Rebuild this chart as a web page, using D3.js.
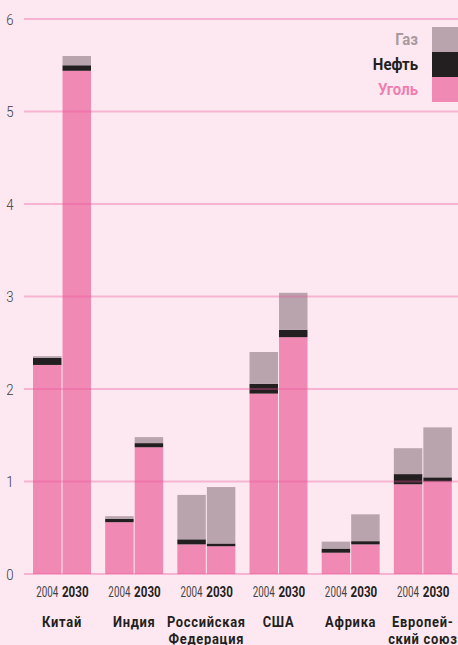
<!DOCTYPE html>
<html><head><meta charset="utf-8">
<script src="https://cdn.jsdelivr.net/npm/d3@7"></script>
<style>
html,body{margin:0;padding:0;background:#fde8f1;}
svg{display:block;}
</style></head>
<body>
<svg id="chart" width="458" height="645"></svg>
<script>
const countries = ["Китай", "Индия", "Российская\nФедерация", "США", "Африка", "Европей-\nский союз"];
const years = ["2004", "2030"];
// values per bar (country × year), in order [c0-2004, c0-2030, c1-2004, ...]
const coal = [2.26, 5.44, 0.56, 1.37, 0.32, 0.30, 1.95, 2.56, 0.23, 0.32, 0.97, 1.00];
const oil  = [0.075, 0.06, 0.035, 0.045, 0.055, 0.03, 0.105, 0.08, 0.045, 0.035, 0.11, 0.045];
const gas  = [0.02, 0.10, 0.03, 0.065, 0.48, 0.61, 0.345, 0.40, 0.075, 0.29, 0.28, 0.54];
const yTicks = [0, 1, 2, 3, 4, 5, 6];
const seriesNames = ["Уголь", "Нефть", "Газ"];
const seriesColors = ["#f189b5", "#231f20", "#b9a4ae"];
const legendTextColors = ["#f07db0", "#231f20", "#a8999f"];

const svg = d3.select("#chart");
const W = 458, H = 645;
const font = "'Roboto','Liberation Sans',sans-serif";

const y = d3.scaleLinear().domain([0, 6]).range([574, 19]);
const xGroup = d3.scaleBand().domain(countries).range([33, 466]).paddingInner(0).paddingOuter(0);
const xYear = d3.scaleBand().domain(years).range([0, 58]).paddingInner(0.035);

const rows = [];
countries.forEach((c, i) => years.forEach((yr, j) => {
  const k = i * 2 + j;
  rows.push({country: c, year: yr, "Уголь": coal[k], "Нефть": oil[k], "Газ": gas[k]});
}));
const stack = d3.stack().keys(seriesNames)(rows);

// narrow text helper
function ntext(x, yy, sx, str) {
  return svg.append("text")
    .attr("transform", `translate(${x},${yy}) scale(${sx},1)`)
    .attr("font-family", font)
    .text(str);
}

// bars
const g = svg.append("g");
stack.forEach((layer, si) => {
  g.selectAll(null).data(layer).enter().append("rect")
    .attr("x", d => xGroup(d.data.country) + xYear(d.data.year))
    .attr("width", xYear.bandwidth())
    .attr("y", d => y(d[1]))
    .attr("height", d => y(d[0]) - y(d[1]))
    .attr("fill", seriesColors[si]);
});

// gridlines on top (translucent)
svg.append("g").selectAll("line").data(yTicks).enter().append("line")
  .attr("x1", 24).attr("x2", W)
  .attr("y1", d => y(d)).attr("y2", d => y(d))
  .attr("stroke", "rgb(236,84,152)").attr("stroke-opacity", 0.35).attr("stroke-width", 2);

// y labels
yTicks.forEach(d => {
  ntext(10, y(d) + 5.5, 0.85, d)
    .attr("text-anchor", "middle")
    .attr("font-size", 15.5).attr("font-weight", 300)
    .attr("fill", "#3a3a3a");
});

// year labels
rows.forEach(r => {
  const is30 = r.year === "2030";
  ntext(xGroup(r.country) + xYear(r.year) + xYear.bandwidth() / 2 + (is30 ? -1.5 : 0), 596.5, is30 ? 0.8 : 0.68, r.year)
    .attr("text-anchor", "middle")
    .attr("font-size", 14.5)
    .attr("font-weight", is30 ? "bold" : "normal")
    .attr("fill", is30 ? "#231f20" : "#444");
});

// country labels
countries.forEach(c => {
  const cx = xGroup(c) + 29;
  c.split("\n").forEach((line, li) => {
    ntext(cx, 627 + li * 16.5, 0.86, line)
      .attr("text-anchor", "middle")
      .attr("font-size", 15).attr("font-weight", "bold")
      .attr("letter-spacing", 0.85)
      .attr("fill", "#231f20");
  });
});

// legend
const legOrder = [2, 1, 0];
legOrder.forEach((si, idx) => {
  const top = 27 + idx * 25;
  svg.append("rect").attr("x", 432).attr("y", top).attr("width", 26).attr("height", 25)
    .attr("fill", seriesColors[si]);
  ntext(418, top + 18, 0.88, seriesNames[si])
    .attr("text-anchor", "end")
    .attr("font-size", 17).attr("font-weight", "bold")
    .attr("fill", legendTextColors[si]);
});
</script>
</body></html>
